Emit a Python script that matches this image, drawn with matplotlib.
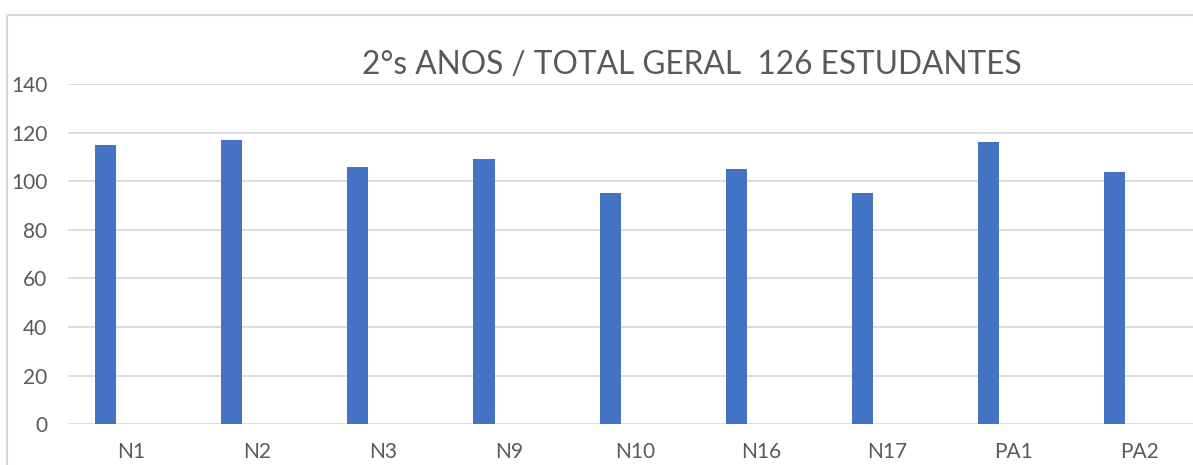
import matplotlib.pyplot as plt
from matplotlib.patches import Rectangle

# turmas e numero de estudantes
turmas = ['N1', 'N2', 'N3', 'N9', 'N10', 'N16', 'N17', 'PA1', 'PA2']
estudantes = [115, 117, 106, 109, 95, 105, 95, 116, 104]
yticks = [0, 20, 40, 60, 80, 100, 120, 140]

plt.rcParams['font.family'] = ['Lato', 'DejaVu Sans']
cinza = '#595959'

fig = plt.figure(figsize=(11.93, 4.65), dpi=100)
ax = fig.add_axes([0.057, 0.088, 0.951, 0.731])

pos = list(range(len(turmas)))
ax.bar([p - 0.2 for p in pos], estudantes, width=0.167, color='#4472c4', zorder=3)

ax.set_xlim(-0.5, len(turmas) - 0.5)
ax.set_ylim(0, 140)
ax.set_yticks(yticks)
ax.set_xticks(pos)
ax.set_xticklabels(turmas)
ax.tick_params(axis='both', length=0, labelsize=15, colors=cinza)
ax.tick_params(axis='x', pad=13)
ax.tick_params(axis='y', pad=15)
ax.grid(axis='y', color='#d9d9d9', lw=1.3, zorder=0)
for s in ax.spines.values():
    s.set_visible(False)

fig.text(0.58, 0.827, '2°s ANOS / TOTAL GERAL  126 ESTUDANTES', ha='center', va='bottom',
         fontsize=22.8, color=cinza)

# moldura do grafico
fig.patches.append(Rectangle((7 / 1193, -0.1), 1.2, 0.1 + (465 - 15) / 465, transform=fig.transFigure,
                             fill=False, edgecolor='#d9d9d9', lw=1.5))

fig.savefig('out.png', dpi=100)
